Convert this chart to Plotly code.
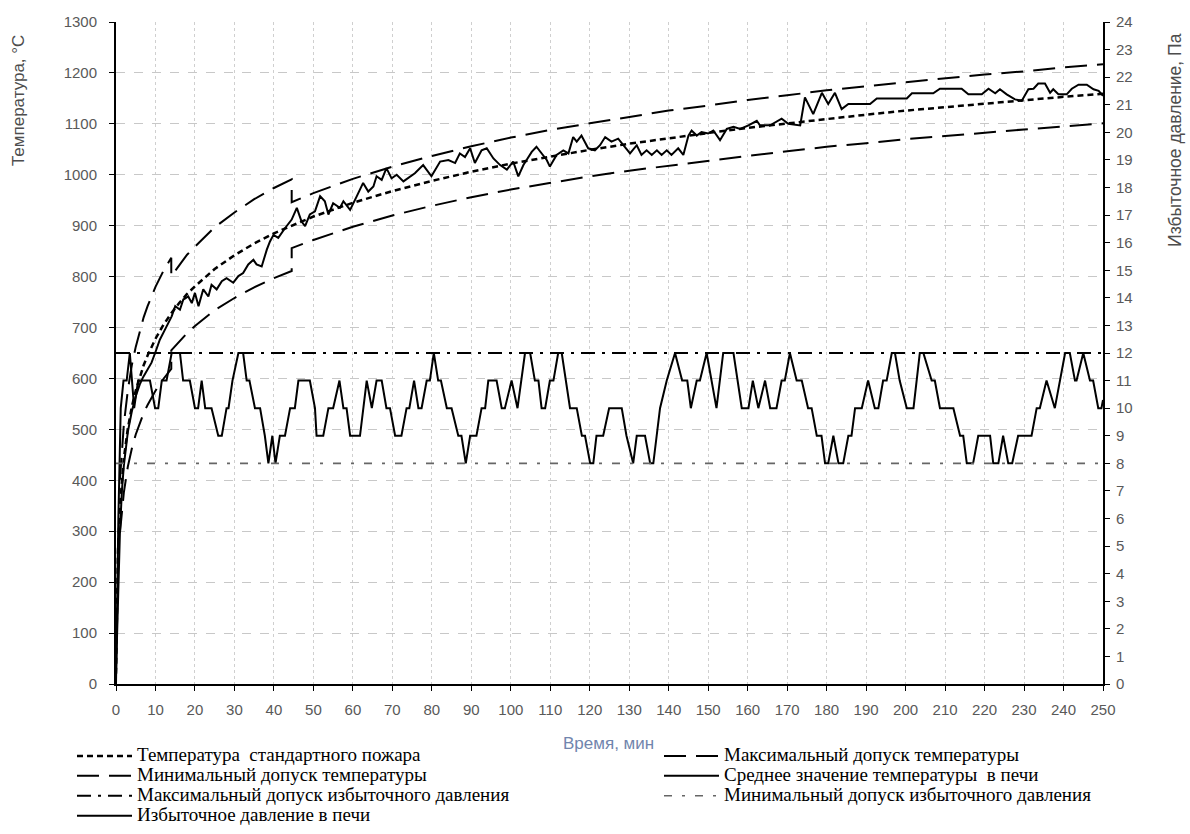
import plotly.graph_objects as go

# ---------------- data ----------------
# Standard fire temperature curve
std_t = [0, 0.5, 1, 1.5, 2, 3, 4, 5, 6, 7, 8, 10, 12, 14, 16, 18, 20, 25, 30, 35, 40, 45,
         50, 60, 70, 80, 90, 100, 110, 120, 130, 140, 150, 160, 170, 180, 190, 200, 210, 220, 230, 240, 250]
std_T = [20, 261, 349, 404, 444, 502, 544, 576, 603, 626, 645, 678, 705, 728, 748, 766, 781, 815, 842, 865, 885, 902,
         918, 945, 968, 988, 1006, 1022, 1036, 1049, 1061, 1072, 1082, 1092, 1101, 1110, 1118, 1126, 1133, 1140, 1146, 1153, 1159]

# Temperature tolerance limits
tol_t = [1, 1.5, 2, 3, 4, 5, 6, 7, 8, 10, 12, 14, 14, 16, 18, 20, 25, 30, 35, 40, 44.5, 44.5,
         50, 60, 70, 80, 90, 100, 110, 120, 130, 140, 150, 160, 170, 180, 190, 200, 210, 220, 230, 240, 250]
tol_max = [401, 465, 511, 577, 626, 662, 693, 720, 742, 780, 811, 837, 801, 823, 843, 859, 897, 926, 952, 974, 991, 946,
           964, 992, 1016, 1037, 1056, 1073, 1088, 1101, 1114, 1126, 1136, 1147, 1156, 1166, 1174, 1182, 1190, 1197, 1203, 1211, 1217]
tol_min = [297, 343, 377, 427, 462, 490, 513, 532, 548, 576, 599, 619, 655, 673, 689, 703, 734, 758, 779, 797, 811, 856,
           872, 898, 920, 939, 956, 971, 984, 997, 1008, 1018, 1028, 1037, 1046, 1055, 1062, 1070, 1076, 1083, 1089, 1095, 1101]

# Mean furnace temperature
avg_t = [0, 0.5, 1, 1.5, 2, 3, 4, 5, 6, 6.9, 8.0, 9.0, 10.0, 11.1, 12.4, 14.1, 15.0, 16.2, 17.05, 18.3, 19.2, 20.0,
         20.9, 22.1, 23.4, 24.2, 25.5, 26.8, 28.0, 29.7, 31.0, 32.2, 33.5, 34.8, 35.6, 36.9, 38.2, 39.0, 39.9, 41.1,
         42.8, 44.5, 45.8, 47.0, 47.9, 49.1, 50.4, 51.7, 52.9, 53.8, 55.0, 56.7, 57.6, 59.3, 61.0, 62.6, 63.9, 65.2,
         66.0, 67.3, 68.5, 69.8, 71.1, 72.8, 75.7, 77.8, 79.9, 82.1, 84.2, 85.9, 87.1, 88.4, 89.7, 90.9, 92.6, 93.9,
         95.6, 97.3, 99.0, 100.6, 101.9, 103.2, 104.0, 105.3, 106.5, 107.8, 109.1, 109.9, 111.6, 113.3, 114.6, 115.8,
         116.7, 117.9, 119.6, 121.3, 122.6, 123.9, 125.5, 127.2, 128.5, 130.2, 131.9, 133.1, 134.4, 135.7, 137.0,
         138.2, 139.5, 140.7, 142.4, 143.7, 145.0, 145.8, 147.1, 148.3, 150.0, 151.3, 153.0, 154.7, 156.4, 158.1,
         160.2, 162.3, 163.1, 165.7, 168.6, 170.3, 173.3, 174.5, 176.6, 178.8, 180.4, 182.1, 183.8, 185.5, 191.0,
         192.7, 200.3, 201.6, 207.0, 208.7, 214.2, 215.9, 219.3, 221.0, 222.7, 223.9, 225.6, 227.7, 229.4, 231.1,
         232.4, 233.6, 235.3, 236.6, 237.4, 238.7, 240.8, 242.1, 243.8, 245.9, 247.6, 248.9, 250.0]
avg_T = [20, 180, 300, 380, 430, 495, 535, 565, 588, 603, 618, 631, 652, 676, 696, 722, 742, 735, 755, 761, 748, 768,
         742, 775, 761, 784, 775, 791, 797, 788, 801, 807, 824, 833, 824, 820, 853, 869, 882, 876,
         895, 912, 935, 908, 899, 922, 928, 958, 948, 922, 944, 935, 948, 931, 958, 984, 967, 977,
         997, 990, 1013, 993, 1000, 987, 1003, 1019, 997, 1026, 1029, 1023, 1042, 1035, 1052, 1023, 1048, 1052,
         1032, 1019, 1010, 1026, 997, 1019, 1029, 1045, 1055, 1042, 1029, 1016, 1039, 1048, 1042, 1074,
         1065, 1077, 1052, 1048, 1058, 1074, 1065, 1071, 1058, 1042, 1058, 1039, 1048, 1039, 1048,
         1039, 1048, 1039, 1052, 1039, 1077, 1087, 1077, 1084, 1081, 1087, 1068, 1090, 1094, 1090,
         1097, 1106, 1097, 1097, 1110, 1100, 1097, 1152, 1119, 1161, 1139, 1161, 1129, 1139, 1139,
         1150, 1150, 1160, 1160, 1169, 1169, 1158, 1158, 1169, 1160, 1168, 1158, 1148, 1145, 1168,
         1169, 1179, 1179, 1161, 1168, 1158, 1158, 1169, 1177, 1177, 1168, 1165, 1155]

# Furnace overpressure, Pa
p_t = [0, 0.6, 1.2, 1.9, 2.7, 3.5, 4.6, 5.6, 8.6, 9.9, 10.7, 11.6, 12.8, 14.1, 16.2, 17.0, 18.7, 20.0, 20.8, 21.7,
       22.6, 24.2, 25.9, 26.8, 28.0, 28.5, 29.5, 31.0, 32.2, 33.1, 33.8, 35.2, 36.5, 37.7, 38.6, 39.6, 40.4, 41.5,
       42.8, 44.1, 45.3, 46.2, 49.1, 50.4, 50.8, 52.5, 53.8, 55.0, 56.6, 57.6, 58.4, 59.3, 61.8, 62.7, 63.5, 64.8,
       66.0, 67.3, 68.5, 69.4, 70.7, 72.3, 73.6, 74.3, 75.5, 76.6, 77.4, 78.7, 79.5, 80.5, 81.6, 82.3, 83.8, 85.0,
       86.7, 87.5, 88.6, 89.7, 91.3, 92.6, 93.5, 94.3, 96.4, 97.7, 98.5, 100.2, 101.7, 103.6, 104.9, 106.1, 107.0,
       107.8, 108.7, 109.9, 110.8, 112.0, 112.9, 115.0, 116.7, 118.0, 118.8, 120.1, 120.9, 121.7, 123.4, 124.9,
       126.2, 128.1, 129.3, 131.0, 131.9, 134.0, 135.3, 136.1, 137.8, 139.5, 141.6, 143.4, 144.7, 145.6, 147.1,
       147.9, 149.6, 152.1, 153.8, 156.4, 158.5, 160.2, 161.3, 162.7, 164.4, 165.7, 167.3, 168.6, 169.4, 170.7,
       172.4, 173.7, 175.3, 176.2, 177.5, 178.7, 179.6, 180.4, 181.7, 183.0, 184.2, 185.5, 186.3, 187.2, 188.9,
       190.5, 192.2, 193.1, 194.3, 195.2, 196.5, 197.3, 198.5, 200.3, 202.0, 203.6, 204.5, 206.6, 207.4, 208.7,
       212.1, 213.8, 214.6, 215.5, 217.1, 218.4, 221.4, 222.2, 223.5, 224.7, 226.0, 227.0, 228.5, 231.9, 233.2,
       234.0, 235.7, 237.8, 240.4, 241.6, 242.9, 243.3, 245.0, 246.7, 247.5, 248.8, 249.6, 250.0]
p_val = [0, 6, 10, 11, 11, 12, 10, 11, 11, 10, 10, 11, 11, 12, 12, 11, 11, 10, 10, 11,
         10, 10, 9, 9, 10, 10, 11, 12, 12, 11, 11, 10, 10, 9, 8, 9, 8, 9,
         9, 10, 10, 11, 11, 10, 9, 9, 10, 10, 11, 10, 10, 9, 9, 10, 11, 10,
         11, 11, 10, 10, 9, 9, 10, 10, 11, 10, 10, 11, 11, 12, 11, 11, 10, 10,
         9, 9, 8, 9, 9, 10, 10, 11, 11, 10, 10, 11, 10, 12, 12, 11, 11,
         10, 10, 11, 11, 12, 12, 10, 10, 9, 9, 8, 8, 9, 9, 10,
         10, 10, 9, 8, 9, 9, 8, 8, 10, 11, 12, 11, 11, 10, 11,
         11, 12, 10, 12, 12, 10, 10, 11, 10, 11, 10, 10, 11, 11, 12,
         11, 11, 10, 10, 9, 9, 8, 8, 9, 8, 8, 9, 9, 10, 10,
         11, 10, 10, 11, 11, 12, 12, 11, 10, 10, 12, 12, 11, 11, 10,
         10, 9, 9, 8, 8, 9, 9, 8, 8, 9, 8, 8, 9, 9, 10,
         10, 11, 10, 12, 12, 11, 11, 12, 11, 11, 10, 10, 10.3]

# Overpressure tolerance limits, Pa
plim_t = [0, 250]
p_max = [12, 12]
p_min = [8, 8]

x_ticks = list(range(0, 251, 10))

# legend labels
names = {
    "std": "Температура  стандартного пожара",
    "tmin": "Минимальный допуск температуры",
    "pmax": "Максимальный допуск избыточного давления",
    "pres": "Избыточное давление в печи",
    "tmax": "Максимальный допуск температуры",
    "avg": "Среднее значение температуры  в печи",
    "pmin": "Минимальный допуск избыточного давления",
}


def lab(s):
    return '<span style="font-size:19px">' + s + '</span>'


# ---------------- figure ----------------
fig = go.Figure()

fig.add_trace(go.Scatter(x=std_t, y=std_T, mode="lines", name=lab(names["std"]),
                         line=dict(color="black", width=2.5, dash="6px,4px"), legend="legend", legendrank=1))
fig.add_trace(go.Scatter(x=tol_t, y=tol_min, mode="lines", name=lab(names["tmin"]),
                         line=dict(color="black", width=2, dash="22px,10px"), legend="legend", legendrank=2))
fig.add_trace(go.Scatter(x=plim_t, y=p_max, mode="lines", name=lab(names["pmax"]),
                         yaxis="y2", line=dict(color="black", width=2.2, dash="14px,7px,3px,7px"),
                         legend="legend", legendrank=3))
fig.add_trace(go.Scatter(x=p_t, y=p_val, mode="lines", name=lab(names["pres"]),
                         yaxis="y2", line=dict(color="black", width=2), legend="legend", legendrank=4))
fig.add_trace(go.Scatter(x=tol_t, y=tol_max, mode="lines", name=lab(names["tmax"]),
                         line=dict(color="black", width=2, dash="22px,10px"), legend="legend2", legendrank=1))
fig.add_trace(go.Scatter(x=avg_t, y=avg_T, mode="lines", name=lab(names["avg"]),
                         line=dict(color="black", width=2), legend="legend2", legendrank=2))
fig.add_trace(go.Scatter(x=plim_t, y=p_min, mode="lines", name=lab(names["pmin"]),
                         yaxis="y2", line=dict(color="#666666", width=1.6, dash="8px,10px,3px,10px"),
                         legend="legend2", legendrank=3))

tick_font = dict(family="Liberation Sans", size=15, color="#595959")
legend_font = dict(family="Liberation Serif", size=13, color="black")
legend_y = 1 - 741 / 834

fig.update_layout(
    width=1190, height=834,
    margin=dict(l=116, r=87, t=22, b=150),
    paper_bgcolor="white", plot_bgcolor="white",
    showlegend=True,
    xaxis=dict(range=[0, 250], tickvals=x_ticks, showline=True, linecolor="black", linewidth=2,
               ticks="outside", ticklen=5, tickcolor="black", tickwidth=1, ticklabelstandoff=6,
               showgrid=True, gridcolor="#cfcfcf", gridwidth=1, griddash="dot",
               zeroline=False, tickfont=tick_font),
    yaxis=dict(range=[0, 1300], dtick=100, showline=True, linecolor="black", linewidth=2,
               ticks="outside", ticklen=5, tickcolor="black", ticklabelstandoff=9,
               showgrid=True, gridcolor="#c8c8c8", gridwidth=1, griddash="dash",
               zeroline=False, tickfont=tick_font),
    yaxis2=dict(range=[0, 24], dtick=1, overlaying="y", side="right", showline=True,
                linecolor="black", linewidth=2, ticks="outside", ticklen=5, tickcolor="black",
                ticklabelstandoff=3,
                showgrid=False, zeroline=False, tickfont=tick_font),
    legend=dict(orientation="v", xref="paper", yref="container", x=(72 - 116) / 987, xanchor="left",
                y=legend_y, yanchor="top",
                font=legend_font, bgcolor="rgba(0,0,0,0)", borderwidth=0, tracegroupgap=0,
                itemwidth=55),
    legend2=dict(orientation="v", xref="paper", yref="container", x=(659 - 116) / 987, xanchor="left",
                 y=legend_y, yanchor="top",
                 font=legend_font, bgcolor="rgba(0,0,0,0)", borderwidth=0, tracegroupgap=0,
                 itemwidth=55),
    annotations=[
        dict(text="Температура, °C", xref="paper", yref="paper", x=-0.0993, y=0.882,
             textangle=-90, showarrow=False, xanchor="center", yanchor="middle",
             font=dict(family="Liberation Sans", size=17, color="#4d4d4d")),
        dict(text="Избыточное давление, Па", xref="paper", yref="paper", x=1.073, y=0.822,
             textangle=-90, showarrow=False, xanchor="center", yanchor="middle",
             font=dict(family="Liberation Sans", size=17.5, color="#4d4d4d")),
        dict(text="Время, мин", xref="paper", yref="paper", x=0.4985, y=-0.0906,
             showarrow=False, xanchor="center", yanchor="middle",
             font=dict(family="Liberation Sans", size=17, color="#7185ad")),
    ],
)

fig.write_html("out.html")
